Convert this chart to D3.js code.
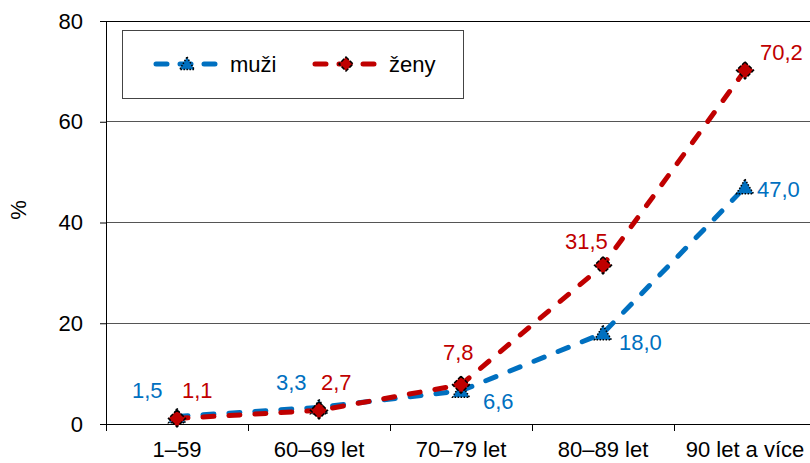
<!DOCTYPE html>
<html><head><meta charset="utf-8">
<script src="https://cdn.jsdelivr.net/npm/d3@7"></script>
<style>body{margin:0;background:#fff}svg{display:block;font-family:Arial,"Liberation Sans",sans-serif}</style>
</head><body>
<svg id="c" width="810" height="463"></svg>
<script>
const categories = ["1–59", "60–69 let", "70–79 let", "80–89 let", "90 let a více"];
const muzi = [1.5, 3.3, 6.6, 18.0, 47.0];
const zeny = [1.1, 2.7, 7.8, 31.5, 70.2];
const yTicks = [0, 20, 40, 60, 80];
const seriesNames = ["muži", "ženy"];

const FS = 22;
const svg = d3.select("#c");
const L = 106, R = 816, T = 21, B = 424;
const x = d3.scaleBand().domain(categories).range([L, R]).padding(0);
const y = d3.scaleLinear().domain([0, 80]).range([B, T]);
const cx = d => x(d) + x.bandwidth() / 2;

// gridlines
svg.append("g").selectAll("line").data(yTicks.filter(t => t > 0)).join("line")
  .attr("x1", L).attr("x2", 810).attr("y1", d => y(d)).attr("y2", d => y(d))
  .attr("stroke", d => d === 80 ? "#000" : "#555").attr("stroke-width", 1).attr("shape-rendering", "crispEdges");

// y axis
const ya = svg.append("g").attr("transform", `translate(${L},0)`)
  .call(d3.axisLeft(y).tickValues(yTicks).tickSize(6).tickPadding(17).tickFormat(d3.format("d")));
ya.select(".domain").attr("stroke", "#000");
ya.selectAll("line").attr("stroke", "#000");
ya.selectAll("text").attr("font-size", FS).attr("fill", "#000").attr("font-family", "Arial, Liberation Sans, sans-serif");

// x axis
const xa = svg.append("g").attr("transform", `translate(0,${B})`)
  .call(d3.axisBottom(x).tickSize(0).tickPadding(17));
xa.select(".domain").attr("stroke", "#000");
xa.selectAll("text").attr("font-size", FS).attr("fill", "#000").attr("font-family", "Arial, Liberation Sans, sans-serif");
svg.append("g").selectAll("line").data(categories).join("line")
  .attr("x1", d => x(d)).attr("x2", d => x(d))
  .attr("y1", B).attr("y2", B + 7).attr("stroke", "#000").attr("shape-rendering", "crispEdges");

// y title
svg.append("text").attr("transform", "translate(26,210) rotate(-90)").attr("text-anchor", "middle")
  .attr("font-size", FS).text("%");

const blue = "#0070C0", red = "#C00000";
const line = d3.line().x((d, i) => cx(categories[i])).y(d => y(d));

const diamond = r => `M0,${-r}L${r},0L0,${r}L${-r},0Z`;
const triangle = r => `M0,${-r}L${r * 1.05},${r * 0.8}L${-r * 1.05},${r * 0.8}Z`;

function markerPath(shape, r) { return shape === "tri" ? triangle(r) : diamond(r); }

function drawSeries(vals, color, shape) {
  svg.append("path").datum(vals).attr("d", line).attr("fill", "none")
    .attr("stroke", color).attr("stroke-width", 5).attr("stroke-linecap", "round")
    .attr("stroke-dasharray", "11,15");
  svg.append("g").selectAll("path").data(vals).join("path")
    .attr("transform", (d, i) => `translate(${cx(categories[i])},${y(d)})`)
    .attr("d", markerPath(shape, shape === "tri" ? 8 : 8.5))
    .attr("fill", color).attr("stroke", "#000").attr("stroke-width", 1.5)
    .attr("stroke-dasharray", shape === "tri" ? "1.5,1.5" : "4,1.5");
}
drawSeries(muzi, blue, "tri");
drawSeries(zeny, red, "dia");

// data labels (offsets in px from point, text-anchor start)
const fmt = v => v.toFixed(1).replace(".", ",");
const blueOff = [[-45, -18], [-43, -17], [22, 18], [16, 17], [12, 10]];
const redOff = [[5, -20], [2, -20], [-18, -25], [-38, -16], [15, -10]];
svg.append("g").selectAll("text").data(muzi).join("text")
  .attr("x", (d, i) => cx(categories[i]) + blueOff[i][0]).attr("y", (d, i) => y(d) + blueOff[i][1])
  .attr("font-size", FS).attr("fill", blue).text(fmt);
svg.append("g").selectAll("text").data(zeny).join("text")
  .attr("x", (d, i) => cx(categories[i]) + redOff[i][0]).attr("y", (d, i) => y(d) + redOff[i][1])
  .attr("font-size", FS).attr("fill", red).text(fmt);

// legend
const lg = svg.append("g");
lg.append("rect").attr("x", 122.5).attr("y", 30.5).attr("width", 341).attr("height", 68)
  .attr("fill", "#fff").attr("stroke", "#444").attr("stroke-width", 1);
const items = [[blue, "tri", 153], [red, "dia", 312]];
items.forEach(([col, shp, x0], k) => {
  lg.append("line").attr("x1", x0 + 3).attr("x2", x0 + 62).attr("y1", 64).attr("y2", 64)
    .attr("stroke", col).attr("stroke-width", 5).attr("stroke-linecap", "round").attr("stroke-dasharray", "11,13");
  lg.append("path").attr("transform", `translate(${x0 + 34},64)`)
    .attr("d", markerPath(shp, 7))
    .attr("fill", col).attr("stroke", "#000").attr("stroke-width", 1.5)
    .attr("stroke-dasharray", shp === "tri" ? "1.5,1.5" : "4,1.5");
  lg.append("text").attr("x", x0 + 77).attr("y", 72).attr("font-size", FS).attr("fill", "#000").text(seriesNames[k]);
});
</script>
</body></html>
